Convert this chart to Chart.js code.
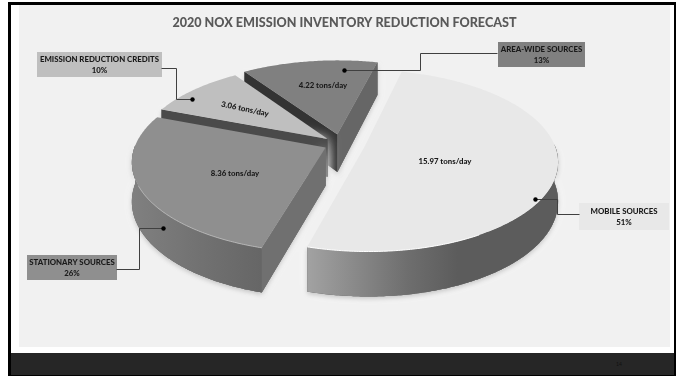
<!DOCTYPE html>
<html><head><meta charset="utf-8">
<script src="https://cdn.jsdelivr.net/npm/chart.js@4"></script>
<style>
html,body{margin:0;padding:0;background:#fff;width:683px;height:378px;overflow:hidden}
#frame{position:absolute;left:8px;top:2px;width:668px;height:374px;box-sizing:border-box;border:3px solid #000;border-bottom-width:1px;border-right-width:2px;background:#fff}
#panel{position:absolute;left:19px;top:5px;width:651px;height:342px;background:#f1f1f1}
#bar{position:absolute;left:11px;top:353px;width:663px;height:22px;background:#262626}
#page{position:absolute;left:616px;top:361px;font:5px Lato,sans-serif;color:#111}
canvas{position:absolute;left:0;top:0}
</style></head><body>
<div id="frame"></div><div id="panel"></div><div id="bar"></div><div id="page">14</div>
<canvas id="c" width="683" height="378"></canvas>
<script>
const titleText = '2020 NOX EMISSION INVENTORY REDUCTION FORECAST';
const categories = ['MOBILE SOURCES','STATIONARY SOURCES','EMISSION REDUCTION CREDITS','AREA-WIDE SOURCES'];
const tonsPerDay = [15.97, 8.36, 3.06, 4.22];
const shares = [51, 26, 10, 13];
const topColors = ['#e8e8e8','#8f8f8f','#bfbfbf','#808080'];
const explode = [76, 54, 54, 66];
const drawOrder = [0, 3, 2, 1];
const rimColors = [['#a2a2a2','#6e6e6e','#5a5a5a'],['#808080','#727272','#666666'],['#4d4d4d','#4d4d4d','#4d4d4d'],['#666666','#666666','#666666']];
const faceColors = [[null,null],['#707070',null],['#4a4a4a',null],['#333333','#666666']];

// projection of the pie plane
const view = {cx:341, cy:144, a:190, b:88, k:0.15, depth:38};
function project(u, v, d){ const w = 1 - view.k*v; return [view.cx + view.a*u/w, view.cy + (view.b*v + (d||0))/w]; }

// annotation layout
const boxes = [
 {x:579,y:203,w:90,h:27},
 {x:27,y:255,w:90,h:25},
 {x:37,y:52,w:125,h:25},
 {x:498,y:42,w:87,h:25}];
const leaders = [
 [[535,199],[557,199],[557,214],[579,214]],
 [[163,228],[139,228],[139,269],[116,269]],
 [[192,99],[176,99],[176,68],[161,68]],
 [[344,70],[420,70],[420,53],[497,53]]];
const valueLabels = [{x:445,y:161,r:0},{x:235,y:173,r:0},{x:245,y:109,r:12},{x:323,y:85,r:0}];

const pie3d = {
 id:'pie3d',
 beforeDatasetDraw(chart, args){
  const ctx = chart.ctx, arcs = chart.getDatasetMeta(args.index).data;
  const path = pts => { ctx.beginPath(); pts.forEach((p,i)=> i?ctx.lineTo(p[0],p[1]):ctx.moveTo(p[0],p[1])); ctx.closePath(); };
  drawOrder.forEach(i=>{
   const el = arcs[i], R = el.outerRadius, m = (el.startAngle+el.endAngle)/2;
   const off = el.options.offset/4/R, ox = Math.cos(m)*off, oy = Math.sin(m)*off;
   const rim=[]; const n = Math.ceil((el.endAngle-el.startAngle)*90);
   for(let j=0;j<=n;j++){ const t = el.startAngle+(el.endAngle-el.startAngle)*j/n; rim.push([ox+Math.cos(t), oy+Math.sin(t), Math.sin(t)]); }
   const top = [[ox,oy],...rim].map(p=>project(p[0],p[1]));
   const front = rim.filter(p=>p[2]>-0.03);
   const wall = front.length ? front.map(p=>project(p[0],p[1])).concat(front.slice().reverse().map(p=>project(p[0],p[1],view.depth))) : null;
   const face = a => [project(ox,oy),project(a[0],a[1]),project(a[0],a[1],view.depth),project(ox,oy,view.depth)];
   const faceS = faceColors[i][0] ? face(rim[0]) : null, faceE = faceColors[i][1] ? face(rim[rim.length-1]) : null;
   const solids = [wall,faceS,faceE].filter(Boolean);
   // white glow, then soft shadow
   ctx.save();
   ctx.fillStyle='#777';
   ctx.shadowColor='rgba(255,255,255,0.95)'; ctx.shadowBlur=12; ctx.shadowOffsetY=0;
   solids.forEach(p=>{path(p);ctx.fill();});
   ctx.shadowColor='rgba(0,0,0,0.22)'; ctx.shadowBlur=5; ctx.shadowOffsetY=2;
   solids.forEach(p=>{path(p);ctx.fill();});
   ctx.restore();
   // radial faces
   if(faceS){ ctx.fillStyle=faceColors[i][0]; path(faceS); ctx.fill(); }
   if(faceE){ ctx.fillStyle=faceColors[i][1]; path(faceE); ctx.fill(); }
   // curved wall
   if(wall){
    const xs = wall.map(p=>p[0]), g = ctx.createLinearGradient(Math.min(...xs),0,Math.max(...xs),0);
    if(i===0){ g.addColorStop(0,'#a2a2a2'); g.addColorStop(.4,'#6e6e6e'); g.addColorStop(.6,'#5c5c5c'); g.addColorStop(1,'#5c5c5c'); }
    else rimColors[i].forEach((c,k)=>g.addColorStop(k/2,c));
    ctx.fillStyle=g; path(wall); ctx.fill();
   }
   // top
   ctx.fillStyle=topColors[i]; path(top); ctx.fill();
   // rim highlight on the front edge
   if(i<2){
     ctx.strokeStyle= i===0?'#ffffff':'#b4b4b4'; ctx.lineWidth=1;
     ctx.beginPath(); let on=false;
     rim.forEach(p=>{ if(p[2]>(i===0?0.86:0.4)){const q=project(p[0],p[1]); on?ctx.lineTo(q[0],q[1]):ctx.moveTo(q[0],q[1]); on=true;} });
     ctx.stroke();
   }
  });
  return false;
 },
 afterDatasetsDraw(chart){
  const ctx = chart.ctx;
  ctx.save();
  ctx.textAlign='center'; ctx.textBaseline='middle';
  categories.forEach((name,i)=>{
   const b = boxes[i], l = leaders[i], v = valueLabels[i];
   ctx.fillStyle=topColors[i]; ctx.fillRect(b.x,b.y,b.w,b.h);
   ctx.strokeStyle='#404040'; ctx.lineWidth=1; ctx.beginPath();
   l.forEach((p,j)=> j?ctx.lineTo(p[0]+.5,p[1]+.5):ctx.moveTo(p[0]+.5,p[1]+.5)); ctx.stroke();
   ctx.fillStyle='#000'; ctx.beginPath(); ctx.arc(l[0][0]+.5,l[0][1]+.5,2.2,0,Math.PI*2); ctx.fill();
   ctx.fillStyle='#1a1a1a'; ctx.font='900 7.8px Lato, sans-serif';
   ctx.fillText(name,b.x+b.w/2,b.y+b.h/2-5.5);
   ctx.fillText(shares[i]+'%',b.x+b.w/2,b.y+b.h/2+5.5);
   ctx.save(); ctx.translate(v.x,v.y); ctx.rotate(v.r*Math.PI/180);
   ctx.fillText(tonsPerDay[i].toFixed(2)+' tons/day',0,0); ctx.restore();
  });
  ctx.restore();
 }
};

new Chart(document.getElementById('c'),{
 type:'pie',
 data:{labels:categories,datasets:[{data:tonsPerDay,backgroundColor:topColors,offset:explode,borderWidth:0}]},
 options:{
  responsive:false,animation:false,rotation:14,radius:150,
  layout:{padding:{left:6}},
  events:[],
  plugins:{legend:{display:false},tooltip:{enabled:false},
   title:{display:true,fullSize:false,text:titleText,color:'#595959',font:{family:'Lato, sans-serif',size:12.6,weight:'900'},padding:{top:15,bottom:0}}}
 },
 plugins:[pie3d]
});
</script>
</body></html>
